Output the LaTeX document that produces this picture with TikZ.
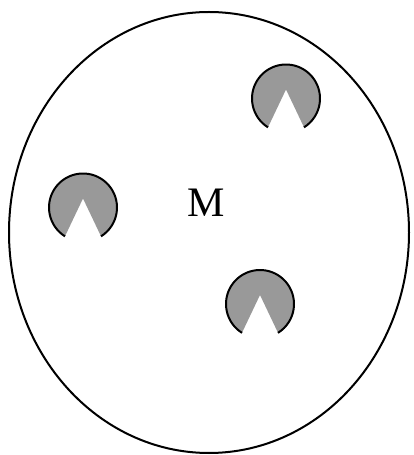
\documentclass[tikz,border=0pt]{standalone}
\usepackage{fontspec}
\setmainfont{Liberation Serif}
\definecolor{pacgray}{RGB}{153,153,153}
\tikzset{
  outline/.style={line width=2pt, black},
  pacman/.pic={
    \fill[pacgray] (238:34pt) arc[start angle=238, end angle=-58, radius=34pt] -- (0pt,9pt) -- cycle;
    \draw[outline] (238:34pt) arc[start angle=238, end angle=-58, radius=34pt];
  }
}
\begin{document}
\begin{tikzpicture}[x=1pt,y=1pt]
\useasboundingbox (0,0) rectangle (413,455);
\draw[outline] (209,222.5) ellipse [x radius=200pt, y radius=220.5pt];
\pic (p1) at (286,356.5) {pacman};
\pic (p2) at (83,247.5) {pacman};
\pic (p3) at (260,151) {pacman};
\node[font=\fontsize{42}{42}\selectfont, inner sep=0pt] (m) at (206,252) {M};
\end{tikzpicture}
\end{document}
